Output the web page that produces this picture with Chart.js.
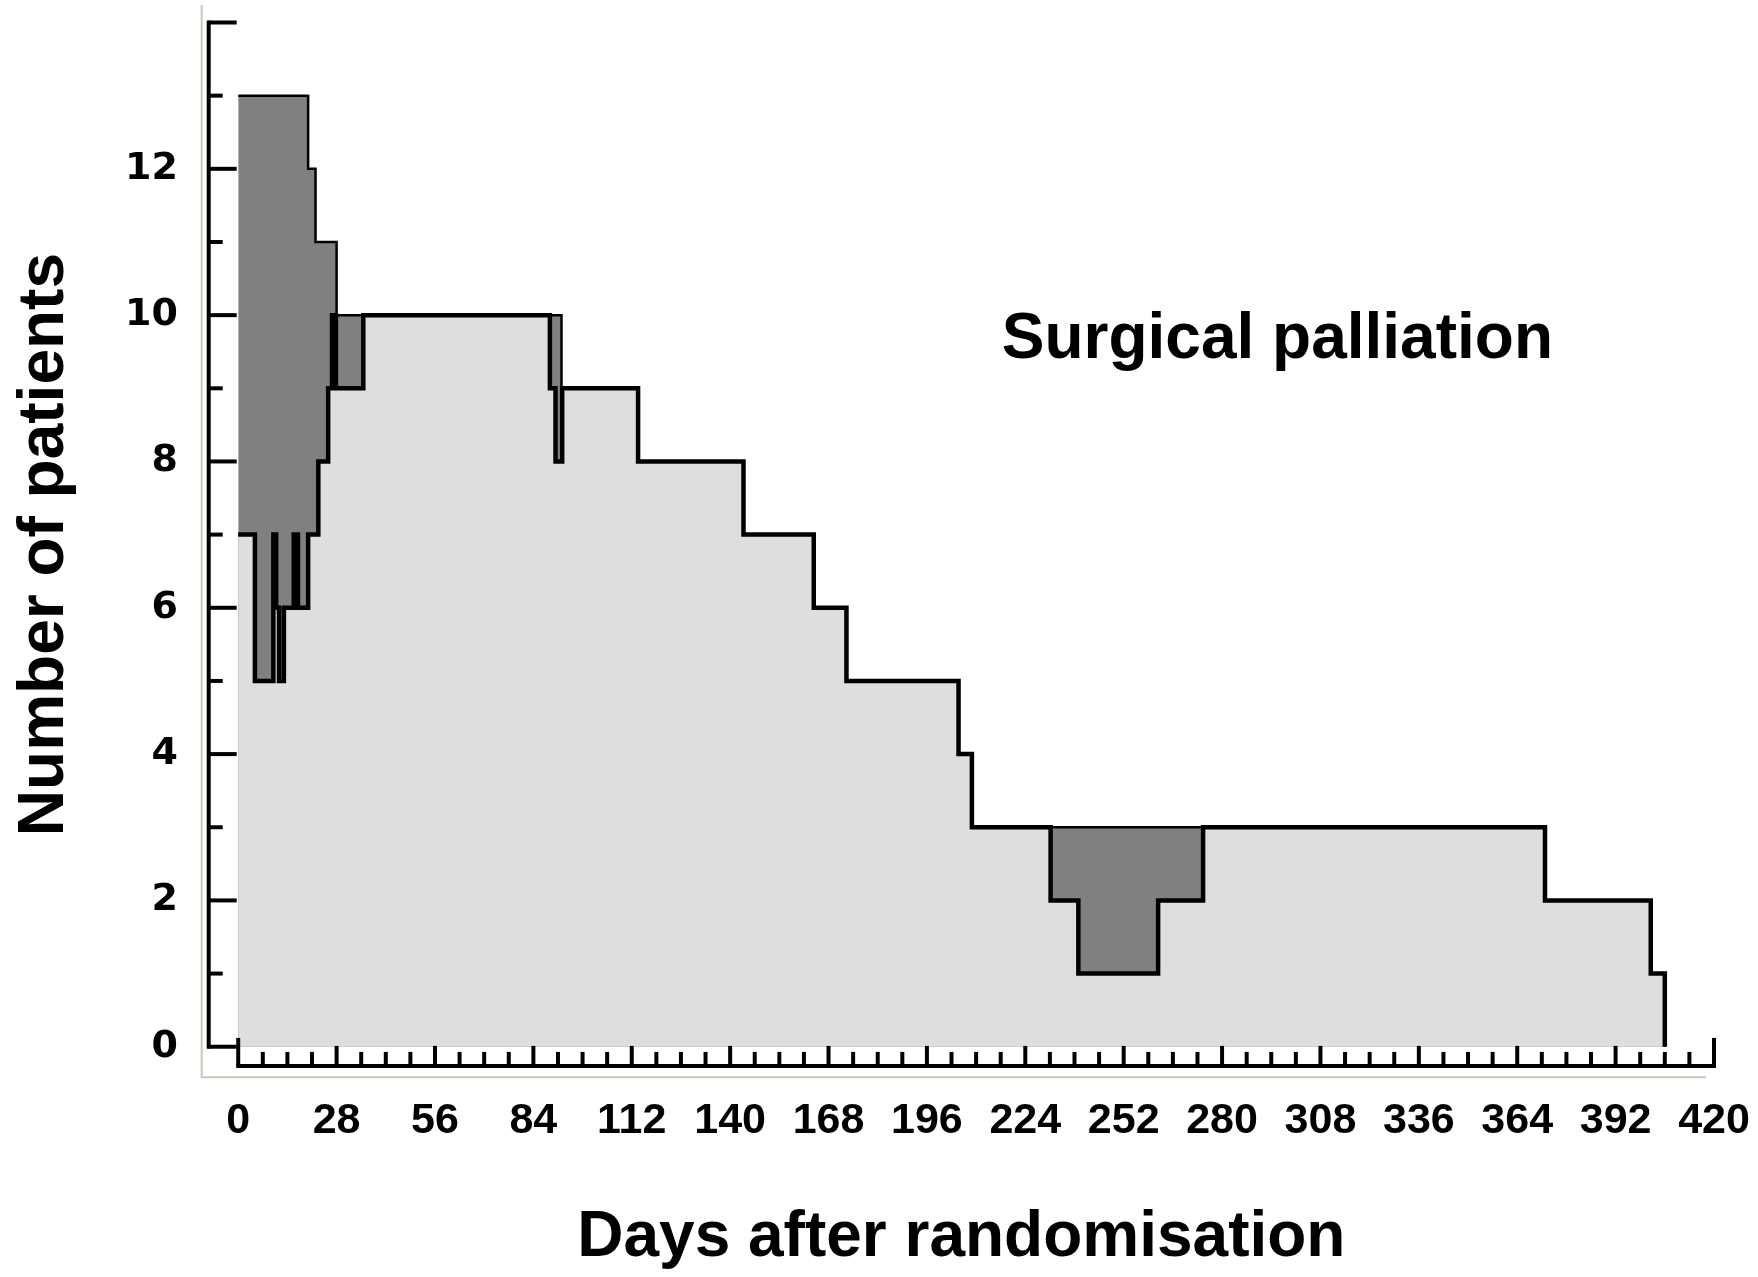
<!DOCTYPE html>
<html>
<head>
<meta charset="utf-8">
<style>
  html, body { margin: 0; padding: 0; background: #ffffff; }
  canvas { display: block; }
</style>
<script src="https://cdn.jsdelivr.net/npm/chart.js"></script>
</head>
<body>
<canvas id="chart" width="1758" height="1277"></canvas>
<script>
// ---- data ----
const upperDays   = [0, 19.9, 22, 28, 92, 113.8, 143.8, 163.8, 173.1, 205, 208.8, 371.9, 402, 406];
const upperCounts = [13, 12, 11, 10, 9, 8, 7, 6, 5, 4, 3, 2, 1, 0];

const lowerDays   = [0, 4.75, 10, 10.8, 11.6, 13, 15.8, 17, 19.9, 22.8, 25.6, 26.7, 27.8, 35.6, 88.7, 90.3, 92.2,
                     113.8, 143.8, 163.8, 173.1, 205, 208.8, 231.2, 239.1, 261.8, 274.6, 371.9, 402, 406];
const lowerCounts = [7, 5, 7, 6, 5, 6, 7, 6, 7, 8, 9, 10, 9, 10, 9, 8, 9,
                     8, 7, 6, 5, 4, 3, 2, 1, 2, 3, 2, 1, 0];

const xTickValues = [0, 28, 56, 84, 112, 140, 168, 196, 224, 252, 280, 308, 336, 364, 392, 420];
const xTickLabels = ['0', '28', '56', '84', '112', '140', '168', '196', '224', '252', '280', '308', '336', '364', '392', '420'];
const yTickValues = [0, 2, 4, 6, 8, 10, 12];
const yTickLabels = ['0', '2', '4', '6', '8', '10', '12'];

const xTitle = 'Days after randomisation';
const yTitle = 'Number of patients';
const panelLabel = 'Surgical palliation';

const toPoints = (xs, ys) => xs.map((d, i) => ({ x: d, y: ys[i] }));

const ARIAL = '"Liberation Sans", Arial, Helvetica, sans-serif';

// ---- axis decoration (inward tick marks, offset axes, frame, panel label) ----
const decor = {
  id: 'decor',
  afterDatasetsDraw(chart) {
    const { ctx, chartArea, scales } = chart;
    const xs = scales.x, ys = scales.y;
    ctx.save();

    // light frame
    ctx.strokeStyle = '#c4ccb4';
    ctx.lineWidth = 2;
    const fx = chartArea.left - 7;
    const fy = chartArea.bottom + 10.6;
    ctx.beginPath();
    ctx.moveTo(fx, chartArea.top - 17.5);
    ctx.lineTo(fx, fy);
    ctx.lineTo(chartArea.right - 8.3, fy);
    ctx.stroke();

    ctx.strokeStyle = '#000';
    ctx.lineWidth = 4;
    ctx.lineCap = 'butt';

    // y axis line + ticks
    const ax = chartArea.left;
    ctx.beginPath();
    ctx.moveTo(ax, ys.getPixelForValue(14) - 2);
    ctx.lineTo(ax, ys.getPixelForValue(0) + 2);
    ctx.stroke();
    for (let v = 0; v <= 14; v++) {
      const py = ys.getPixelForValue(v);
      const len = v % 2 === 0 ? 28 : 14;
      ctx.beginPath();
      ctx.moveTo(ax, py);
      ctx.lineTo(ax + len, py);
      ctx.stroke();
    }

    // x axis line + ticks
    const ay = chartArea.bottom - 0.8;
    ctx.beginPath();
    ctx.moveTo(xs.getPixelForValue(0) - 2, ay);
    ctx.lineTo(xs.getPixelForValue(420) + 2, ay);
    ctx.stroke();
    for (let d = 0; d <= 420; d += 7) {
      const px = xs.getPixelForValue(d);
      const len = (d === 0 || d === 420) ? 28 : (d % 28 === 0 ? 20 : 14);
      ctx.beginPath();
      ctx.moveTo(px, ay);
      ctx.lineTo(px, ay - len);
      ctx.stroke();
    }

    // panel label
    ctx.fillStyle = '#000';
    ctx.font = 'bold 64px ' + ARIAL;
    ctx.textBaseline = 'alphabetic';
    ctx.textAlign = 'left';
    ctx.fillText(panelLabel, xs.getPixelForValue(217.3), ys.getPixelForValue(9.42));

    ctx.restore();
  }
};

Chart.defaults.color = '#000';

new Chart(document.getElementById('chart'), {
  type: 'line',
  data: {
    datasets: [
      {
        label: 'All patients',
        data: toPoints(upperDays, upperCounts),
        stepped: 'before',
        borderColor: '#000',
        borderWidth: 2.5,
        backgroundColor: '#808080',
        fill: 'origin',
        pointRadius: 0,
        order: 1
      },
      {
        label: 'Lower',
        data: toPoints(lowerDays, lowerCounts),
        stepped: 'before',
        borderColor: '#000',
        borderWidth: 4.5,
        backgroundColor: '#dedede',
        fill: 'origin',
        pointRadius: 0,
        order: 0
      }
    ]
  },
  options: {
    responsive: false,
    animation: false,
    devicePixelRatio: 1,
    layout: { padding: { top: 22.5, right: 44, bottom: 0, left: 0 } },
    plugins: { legend: { display: false }, tooltip: { enabled: false } },
    scales: {
      x: {
        type: 'linear',
        min: -8.4,
        max: 420,
        grid: { display: false },
        border: { display: false },
        afterBuildTicks: s => { s.ticks = xTickValues.map(v => ({ value: v })); },
        afterFit: s => { s.height = 210.3; s.paddingLeft = 0; s.paddingRight = 0; },
        ticks: {
          autoSkip: false,
          maxRotation: 0,
          padding: 21,
          color: '#000',
          font: { family: ARIAL, size: 43, weight: 'bold' },
          callback: (v, i) => xTickLabels[i]
        },
        title: {
          display: true,
          text: xTitle,
          color: '#000',
          font: { family: ARIAL, size: 64, weight: 'bold' },
          padding: { top: 0, bottom: 0 }
        }
      },
      y: {
        type: 'linear',
        min: -0.273,
        max: 14,
        grid: { display: false },
        border: { display: false },
        afterBuildTicks: s => { s.ticks = yTickValues.map(v => ({ value: v })); },
        afterFit: s => { s.width = 208.7; s.paddingTop = 0; s.paddingBottom = 0; },
        ticks: {
          autoSkip: false,
          padding: 22.8,
          color: '#000',
          font: { family: '"DejaVu Sans", Verdana, sans-serif', size: 38, weight: 'bold' },
          callback: (v, i) => yTickLabels[i]
        },
        title: {
          display: true,
          text: yTitle,
          color: '#000',
          font: { family: ARIAL, size: 64, weight: 'bold' },
          padding: { top: 7, bottom: 0 }
        }
      }
    }
  },
  plugins: [decor]
});
</script>
</body>
</html>
